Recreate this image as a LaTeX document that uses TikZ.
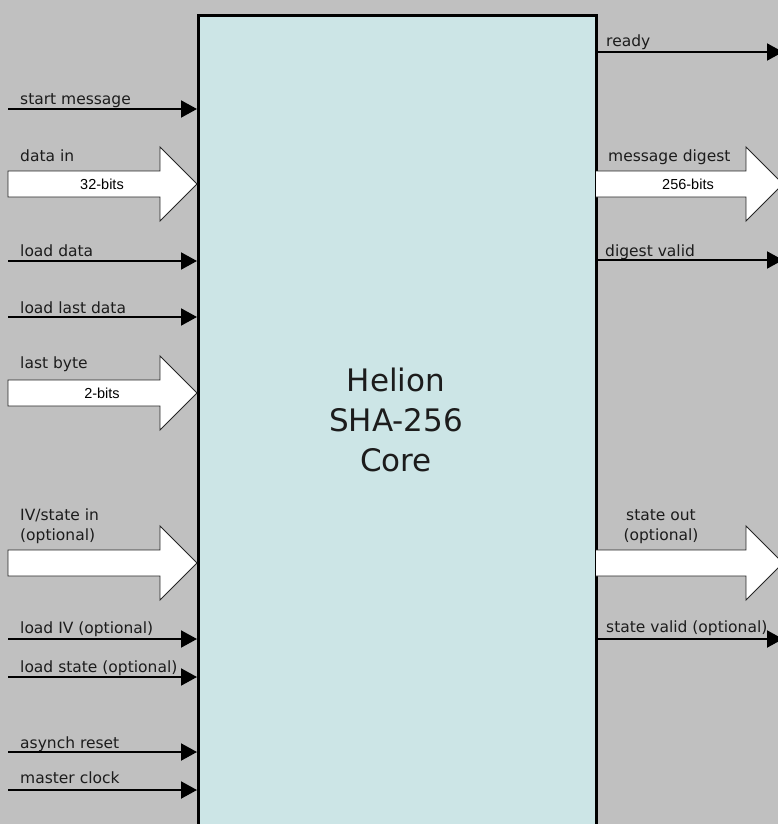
\documentclass[tikz,border=0pt]{standalone}
\usepackage{fontspec}
\setmainfont{DejaVu Sans}
\newfontfamily\arialfont{Liberation Sans}
\usetikzlibrary{arrows.meta}
\definecolor{bg}{RGB}{192,192,192}
\definecolor{corefill}{RGB}{204,229,230}
\definecolor{txt}{RGB}{28,28,28}
\begin{document}
\begin{tikzpicture}[x=1pt,y=1pt,
 sig/.style={line width=2pt, -{Triangle[length=16pt,width=17pt]}, black},
 lbl/.style={font=\fontsize{15.5}{20}\selectfont, text=txt, inner sep=0pt, anchor=base west},
 lblc/.style={font=\fontsize{15.5}{20}\selectfont, text=txt, inner sep=0pt, anchor=base},
 bits/.style={font=\arialfont\fontsize{14.5}{16}\selectfont, inner sep=0pt, text=black},
 fat/.style={draw=black!85, line width=0.9pt, fill=white, line join=miter},
 corebox/.style={draw=black, line width=2.6pt, fill=corefill, inner sep=0pt, anchor=north west, minimum width=398pt, minimum height=840pt},
]
\useasboundingbox (0,0) rectangle (778,-824);
\clip (0,0) rectangle (778,-824);
\fill[bg] (0,0) rectangle (778,-824);

% core block
\node[corebox] (core) at (197,-14) {};
\node[font=\fontsize{31}{40}\selectfont, text=txt, align=center] (title) at (396,-420) {Helion\\SHA-256\\Core};

% left single signals
\coordinate (i1) at (8,-109);
\draw[sig] (i1) -- (i1 -| core.west);
\node[lbl] (l1) at (20,-105) {start message};

\coordinate (i2) at (8,-261);
\draw[sig] (i2) -- (i2 -| core.west);
\node[lbl] (l2) at (20,-256) {load data};

\coordinate (i3) at (8,-317);
\draw[sig] (i3) -- (i3 -| core.west);
\node[lbl] (l3) at (20,-313) {load last data};

\coordinate (i4) at (8,-639);
\draw[sig] (i4) -- (i4 -| core.west);
\node[lbl] (l4) at (20,-633) {load IV (optional)};

\coordinate (i5) at (8,-677);
\draw[sig] (i5) -- (i5 -| core.west);
\node[lbl] (l5) at (20,-672) {load state (optional)};

\coordinate (i6) at (8,-752);
\draw[sig] (i6) -- (i6 -| core.west);
\node[lbl] (l6) at (20,-748) {asynch reset};

\coordinate (i7) at (8,-790);
\draw[sig] (i7) -- (i7 -| core.west);
\node[lbl] (l7) at (20,-783) {master clock};

% left bus arrows
\draw[fat] (8,-171) -- (160,-171) -- (160,-147) -- (197,-184) -- (160,-221) -- (160,-197) -- (8,-197) -- cycle;
\node[bits] (b1) at (102,-184) {32-bits};
\node[lbl] (lb1) at (20,-161) {data in};

\draw[fat] (8,-380) -- (160,-380) -- (160,-356) -- (197,-393) -- (160,-430) -- (160,-406) -- (8,-406) -- cycle;
\node[bits] (b2) at (102,-393) {2-bits};
\node[lbl] (lb2) at (20,-368) {last byte};

\draw[fat] (8,-550) -- (160,-550) -- (160,-526) -- (197,-563) -- (160,-600) -- (160,-576) -- (8,-576) -- cycle;
\node[lbl] (lb3) at (20,-520) {IV/state in};
\node[lbl] (lb3b) at (20,-540) {(optional)};

% right single signals
\coordinate (o1) at (783,-52);
\draw[sig] (o1 -| core.east) -- (o1);
\node[lbl] (r1) at (606,-47) {ready};

\coordinate (o2) at (783,-260);
\draw[sig] (o2 -| core.east) -- (o2);
\node[lbl] (r2) at (605,-256) {digest valid};

\coordinate (o3) at (783,-639);
\draw[sig] (o3 -| core.east) -- (o3);
\node[lbl] (r3) at (606,-632) {state valid (optional)};

% right bus arrows
\draw[fat] (596,-171) -- (746,-171) -- (746,-147) -- (783,-184) -- (746,-221) -- (746,-197) -- (596,-197);
\node[bits] (b3) at (688,-184) {256-bits};
\node[lbl] (rb1) at (608,-161) {message digest};

\draw[fat] (596,-550) -- (746,-550) -- (746,-526) -- (783,-563) -- (746,-600) -- (746,-576) -- (596,-576);
\node[lblc] (rb2) at (661,-520) {state out};
\node[lblc] (rb2b) at (661,-540) {(optional)};
\end{tikzpicture}
\end{document}
